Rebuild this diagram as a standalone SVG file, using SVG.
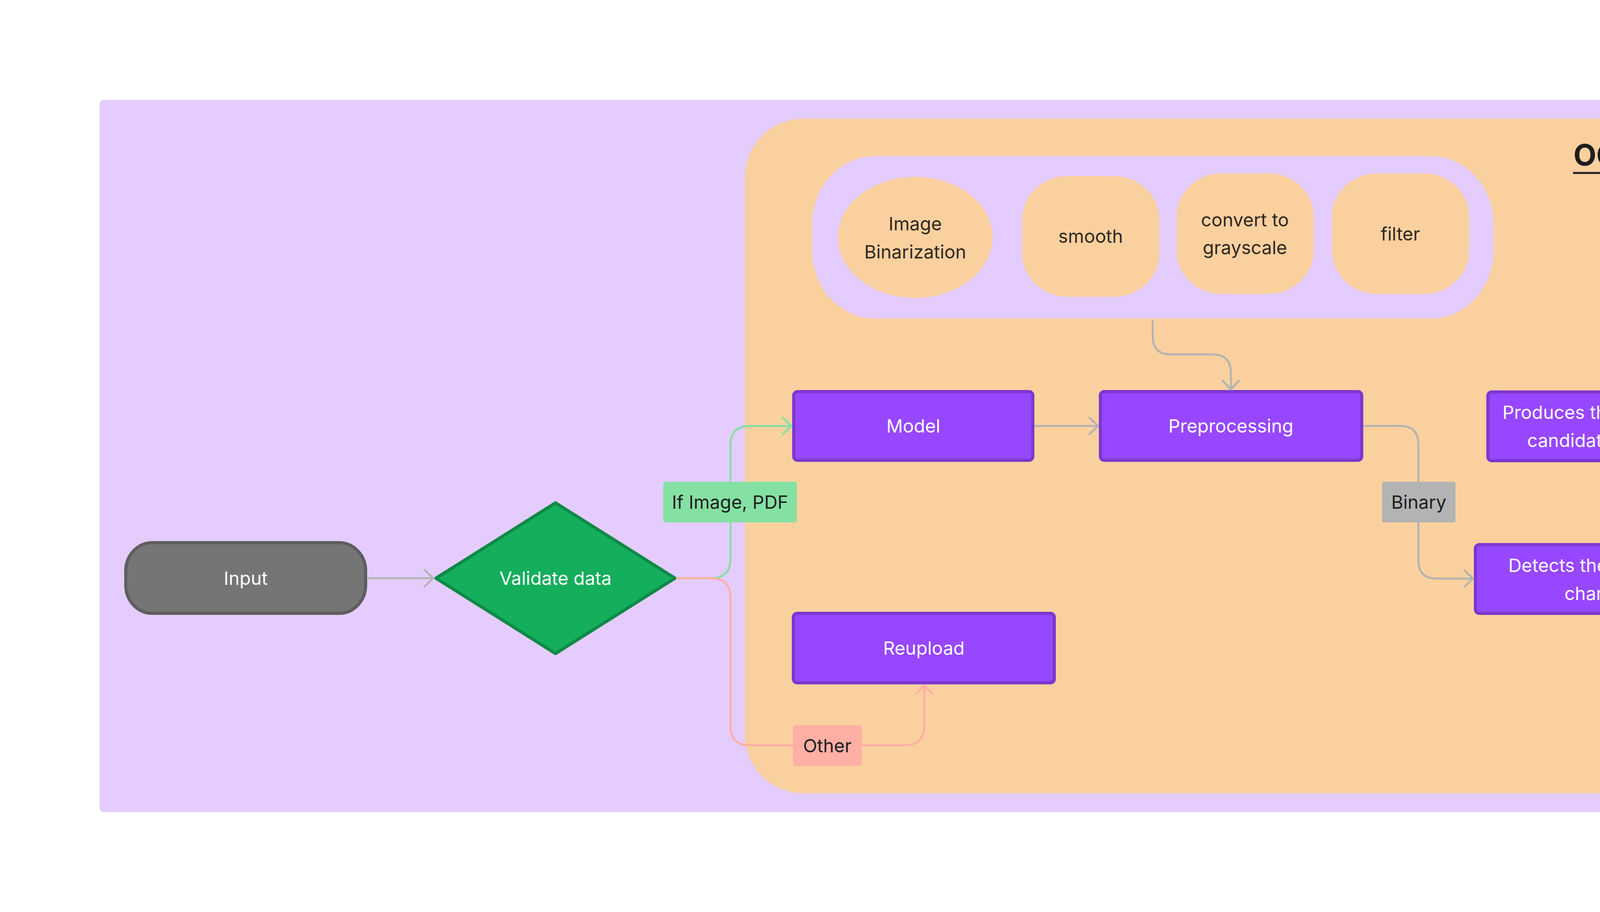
<svg xmlns="http://www.w3.org/2000/svg" width="6976" height="2336" viewBox="0 0 6976 2336">
  <style>
    text { font-family: Inter, "Noto Sans", "Liberation Sans", sans-serif; font-size: 47px; text-anchor: middle; }
    .box { fill: #9747FF; stroke: #7B38CF; stroke-width: 8; }
    .term { fill: #757575; stroke: #5E5E5E; stroke-width: 8; }
    .step { fill: #FBD09F; }
    .grp { fill: #E4CCFF; }
    .wt { fill: #FFFFFF; }
    .dk { fill: #30291F; }
    .lbl { fill: #1E1E1E; }
    .c { fill: none; stroke-width: 5; stroke-linecap: round; stroke-linejoin: round; }
    .cg { stroke: #B3B3B3; }
    .cgr { stroke: #85E0A3; }
    .cp { stroke: #FFAFA3; }
  </style>
  <defs>
    <marker id="ag" markerUnits="userSpaceOnUse" viewBox="-30 -26 36 52" refX="0" refY="0" markerWidth="36" markerHeight="52" orient="auto" overflow="visible">
      <path d="M-22,-21 L0,0 L-22,21" fill="none" stroke="#B3B3B3" stroke-width="5" stroke-linecap="round" stroke-linejoin="round"/>
    </marker>
    <marker id="agr" markerUnits="userSpaceOnUse" viewBox="-30 -26 36 52" refX="0" refY="0" markerWidth="36" markerHeight="52" orient="auto" overflow="visible">
      <path d="M-22,-21 L0,0 L-22,21" fill="none" stroke="#85E0A3" stroke-width="5" stroke-linecap="round" stroke-linejoin="round"/>
    </marker>
    <marker id="ap" markerUnits="userSpaceOnUse" viewBox="-30 -26 36 52" refX="0" refY="0" markerWidth="36" markerHeight="52" orient="auto" overflow="visible">
      <path d="M-22,-21 L0,0 L-22,21" fill="none" stroke="#FFAFA3" stroke-width="5" stroke-linecap="round" stroke-linejoin="round"/>
    </marker>
  </defs>

  <rect width="6976" height="2336" fill="#FFFFFF"/>

  <g id="background">
    <rect x="255" y="256" width="6463" height="1824" rx="10" fill="#E4CCFF"/>
  </g>

  <g id="ocr-model">
    <rect x="1907" y="304" width="3773" height="1728" rx="150" ry="150" fill="#FBD09F"/>
    <text x="4235" y="424" style="font-size:76px;font-weight:700" fill="#1E1E1E">OCR Model</text>
    <line x1="4027" y1="443" x2="4444" y2="443" stroke="#1E1E1E" stroke-width="5"/>
  </g>

  <g id="preprocessing-steps">
    <rect class="grp" x="2079" y="400" width="1745" height="416" rx="160" ry="175"/>
    <g id="image-binarization">
      <ellipse class="step" cx="2343" cy="608" rx="198" ry="155"/>
      <text class="dk" x="2343" y="590">Image</text>
      <text class="dk" x="2343" y="662">Binarization</text>
    </g>
    <g id="smooth">
      <rect class="step" x="2617" y="451" width="351" height="309" rx="117" ry="110"/>
      <text class="dk" x="2792" y="622">smooth</text>
    </g>
    <g id="convert-grayscale">
      <rect class="step" x="3012" y="444" width="351" height="309" rx="117" ry="110"/>
      <text class="dk" x="3187" y="580">convert to</text>
      <text class="dk" x="3187" y="651">grayscale</text>
    </g>
    <g id="filter">
      <rect class="step" x="3410" y="444" width="351" height="309" rx="117" ry="110"/>
      <text class="dk" x="3585" y="616">filter</text>
    </g>
  </g>

  <g id="postprocessing-rules">
    <rect class="grp" x="4594" y="454" width="974" height="416" rx="160" ry="160"/>
    <g id="grammar-rules">
      <ellipse class="step" cx="4903" cy="652" rx="178" ry="176"/>
      <text class="dk" x="4903" y="634">grammar</text>
      <text class="dk" x="4903" y="706">rules</text>
    </g>
    <g id="dictionary">
      <ellipse class="step" cx="5305" cy="644" rx="177" ry="176"/>
      <text class="dk" x="5305" y="661">dictionary</text>
    </g>
  </g>

  <g id="input">
    <rect class="term" x="322" y="1390" width="614" height="181" rx="68" ry="72"/>
    <text class="wt" x="629" y="1498">Input</text>
  </g>

  <g id="validate-data">
    <polygon points="1116,1481 1422,1288 1728,1481 1422,1674" fill="#14AE5C" stroke="#0E8A47" stroke-width="8" stroke-linejoin="round"/>
    <text class="wt" x="1422" y="1498">Validate data</text>
  </g>

  <g id="model">
    <rect class="box" x="2032" y="1003" width="612" height="176" rx="10"/>
    <text class="wt" x="2338" y="1108">Model</text>
  </g>

  <g id="preprocessing">
    <rect class="box" x="2817" y="1003" width="669" height="176" rx="10"/>
    <text class="wt" x="3151" y="1108">Preprocessing</text>
  </g>

  <g id="produces-ranked-list">
    <rect class="box" x="3809" y="1004" width="670" height="176" rx="10"/>
    <text class="wt" x="4144" y="1073">Produces the ranked list of</text>
    <text class="wt" x="4144" y="1145">candidate characters</text>
  </g>

  <g id="detects-words-lower">
    <rect class="box" x="3777" y="1395" width="669" height="176" rx="10"/>
    <text class="wt" x="4111" y="1465">Detects the words and</text>
    <text class="wt" x="4111" y="1537">character</text>
  </g>

  <g id="detects-words-upper">
    <rect class="box" x="4698" y="1004" width="764" height="176" rx="10"/>
    <text class="wt" x="5080" y="1109">Detects the words and character</text>
  </g>

  <g id="reupload">
    <rect class="box" x="2031" y="1571" width="668" height="178" rx="10"/>
    <text class="wt" x="2365" y="1677">Reupload</text>
  </g>

  <g id="output">
    <rect class="term" x="5784" y="958" width="616" height="270" rx="106" ry="106"/>
    <text class="wt" x="6092" y="1074">Output</text>
    <text class="wt" x="6092" y="1146">(Text)</text>
  </g>

  <g id="connectors">
    <path class="c cg" d="M942,1481 H1109" marker-end="url(#ag)"/>
    <path class="c cgr" d="M1733,1481 H1820 Q1870,1481 1870,1431 V1141 Q1870,1091 1920,1091 H2026" marker-end="url(#agr)"/>
    <path class="c cp" d="M1733,1481 H1820 Q1870,1481 1870,1531 V1859 Q1870,1909 1920,1909 H2316 Q2366,1909 2366,1859 V1755" marker-end="url(#ap)"/>
    <path class="c cg" d="M2650,1091 H2811" marker-end="url(#ag)"/>
    <path class="c cg" d="M2951,822 V861 Q2951,908 2998,908 H3104 Q3151,908 3151,955 V997" marker-end="url(#ag)"/>
    <path class="c cg" d="M3492,1091 H3584 Q3631,1091 3631,1138 V1435 Q3631,1482 3678,1482 H3771" marker-end="url(#ag)"/>
    <path class="c cg" d="M4452,1482 H4464 Q4511,1482 4511,1435 V1336 Q4511,1289 4464,1289 H4189 Q4142,1289 4142,1242 V1186" marker-end="url(#ag)"/>
    <path class="c cg" d="M4485,1092 H4692" marker-end="url(#ag)"/>
    <path class="c cg" d="M5079,876 V999" marker-end="url(#ag)"/>
    <path class="c cg" d="M5468,1092 H5778" marker-end="url(#ag)"/>

    <g id="label-if-image">
      <rect x="1698" y="1234" width="342" height="104" rx="5" fill="#85E0A3"/>
      <text class="lbl" x="1869" y="1303">If Image, PDF</text>
    </g>
    <g id="label-other">
      <rect x="2030" y="1858" width="176" height="104" rx="5" fill="#FFAFA3"/>
      <text class="lbl" x="2118" y="1927">Other</text>
    </g>
    <g id="label-binary">
      <rect x="3538" y="1234" width="188" height="104" rx="5" fill="#B3B3B3"/>
      <text class="lbl" x="3632" y="1303">Binary</text>
    </g>
    <g id="label-character">
      <rect x="4193" y="1236" width="269" height="103" rx="5" fill="#B3B3B3"/>
      <text class="lbl" x="4327" y="1305">Character</text>
    </g>
  </g>
</svg>
